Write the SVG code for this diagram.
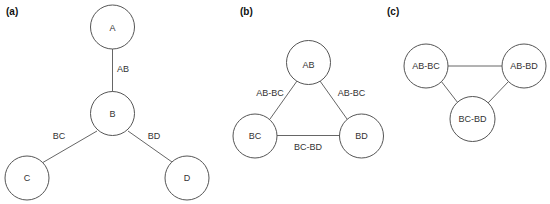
<svg xmlns="http://www.w3.org/2000/svg" width="550" height="204" viewBox="0 0 550 204">
<style>
.n{fill:#fff;stroke:#555;stroke-width:1}
.e{stroke:#666;stroke-width:1;fill:none}
text{font-family:"Liberation Sans",Arial,sans-serif;font-size:9px;fill:#333;text-anchor:middle;dominant-baseline:central}
.p{font-weight:bold;font-size:10px;fill:#111;text-anchor:start}
</style>
<rect width="550" height="204" fill="#fff"/>
<text class="p" x="6" y="11">(a)</text>
<text class="p" x="240" y="11">(b)</text>
<text class="p" x="387" y="11">(c)</text>
<g id="connectors">
<line class="e" x1="112.5" y1="49" x2="112.5" y2="92"/>
<line class="e" x1="97" y1="131" x2="42" y2="163"/>
<line class="e" x1="128" y1="131" x2="172" y2="162"/>
<line class="e" x1="297" y1="81" x2="270" y2="119"/>
<line class="e" x1="320" y1="81" x2="347" y2="119"/>
<line class="e" x1="277" y1="135.5" x2="340" y2="135.5"/>
<line class="e" x1="448" y1="66" x2="502" y2="66"/>
<line class="e" x1="441" y1="81" x2="458" y2="103"/>
<line class="e" x1="509" y1="81" x2="488" y2="103"/>
</g>
<g id="edge-labels">
<text x="123" y="69">AB</text>
<text x="59" y="136">BC</text>
<text x="154" y="136">BD</text>
<text x="270" y="93">AB-BC</text>
<text x="351.5" y="93">AB-BC</text>
<text x="308" y="147">BC-BD</text>
</g>
<g id="A"><circle class="n" cx="112.5" cy="27" r="22"/><text x="112.5" y="28">A</text></g>
<g id="B"><circle class="n" cx="112.5" cy="113.5" r="22"/><text x="112.5" y="114">B</text></g>
<g id="C"><circle class="n" cx="27" cy="178" r="22"/><text x="27" y="178">C</text></g>
<g id="D"><circle class="n" cx="187" cy="178" r="22"/><text x="187" y="178">D</text></g>
<g id="AB"><circle class="n" cx="308.5" cy="62.5" r="22"/><text x="308.5" y="65">AB</text></g>
<g id="BC"><circle class="n" cx="255" cy="136" r="22"/><text x="255" y="136">BC</text></g>
<g id="BD"><circle class="n" cx="361.5" cy="136" r="22"/><text x="361.5" y="136">BD</text></g>
<g id="AB-BC"><circle class="n" cx="426" cy="66" r="22"/><text x="426" y="66">AB-BC</text></g>
<g id="AB-BD"><circle class="n" cx="524" cy="66" r="22"/><text x="524" y="66">AB-BD</text></g>
<g id="BC-BD"><circle class="n" cx="472.5" cy="119" r="22.5"/><text x="472.5" y="119">BC-BD</text></g>
</svg>
